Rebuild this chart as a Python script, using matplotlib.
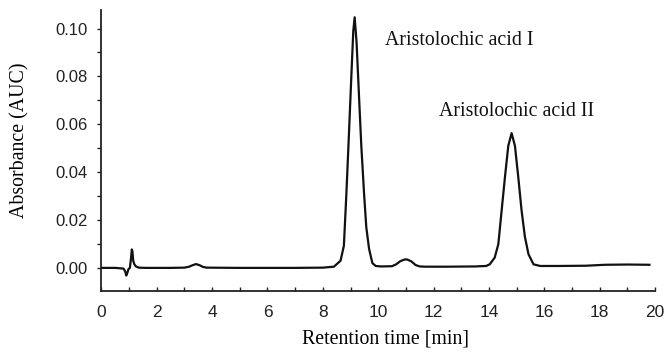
import matplotlib
matplotlib.use("Agg")
import matplotlib.pyplot as plt
from matplotlib.ticker import MultipleLocator, FormatStrFormatter
from matplotlib import font_manager

# Chromatogram trace (time in min, absorbance in AUC)
time_min = [0.0, 0.5, 0.8, 0.86, 0.90, 0.94, 0.98, 1.03, 1.07, 1.10, 1.12, 1.15, 1.19,
            1.25, 1.35, 1.6, 2.5, 3.0, 3.17, 3.29, 3.42, 3.55, 3.67, 3.8, 5.0, 7.0, 8.0,
            8.4, 8.64, 8.76, 8.85, 8.94, 9.03, 9.10, 9.15, 9.22, 9.31, 9.39, 9.49,
            9.57, 9.67, 9.79, 9.91, 10.1, 10.5, 10.65, 10.8, 10.95, 11.05, 11.2,
            11.35, 11.5, 11.7, 12.5, 13.5, 13.9, 14.03, 14.21, 14.34, 14.46, 14.58,
            14.70, 14.82, 14.94, 15.06, 15.18, 15.30, 15.43, 15.61, 15.85, 16.5,
            17.5, 18.2, 19.0, 19.8]
absorbance = [0.0, 0.0, -0.0003, -0.0015, -0.0032, -0.002, -0.0005, 0.0, 0.004, 0.0077,
              0.007, 0.003, 0.0015, 0.0006, 0.0001, 0.0, 0.0, 0.0001, 0.0005, 0.0011,
              0.0016, 0.0011, 0.0004, 0.0001, 0.0, 0.0, 0.0001, 0.0005, 0.003,
              0.0092, 0.0307, 0.055, 0.080, 0.099, 0.1047, 0.094, 0.071, 0.051, 0.031,
              0.017, 0.008, 0.002, 0.0008, 0.0006, 0.0007, 0.0015, 0.0028, 0.0035,
              0.0035, 0.0027, 0.0012, 0.0006, 0.0005, 0.0005, 0.0006, 0.0008, 0.0015,
              0.0043, 0.0099, 0.024, 0.038, 0.051, 0.0563, 0.051, 0.038, 0.024, 0.013,
              0.0057, 0.0015, 0.0008, 0.0008, 0.0009, 0.0013, 0.0014, 0.0013]

peak_labels = ["Aristolochic acid I", "Aristolochic acid II"]
label_pos_t = [10.25, 12.2]
label_pos_a = [0.0948, 0.0652]

x_ticks = [0, 2, 4, 6, 8, 10, 12, 14, 16, 18, 20]
y_ticks = [0.00, 0.02, 0.04, 0.06, 0.08, 0.10]

names = {f.name for f in font_manager.fontManager.ttflist}
tick_font = "Liberation Sans Narrow" if "Liberation Sans Narrow" in names else "Liberation Sans"
serif = "Liberation Serif"

fig = plt.figure(figsize=(6.67, 3.52), dpi=100)
ax = fig.add_axes([0.152, 0.173, 0.83, 0.799])

ax.plot(time_min, absorbance, color="#111111", lw=1.6, solid_joinstyle="round")

ax.set_xlim(0, 20)
ax.set_ylim(-0.0097, 0.1078)
ax.set_xticks(x_ticks)
ax.set_yticks(y_ticks)
ax.xaxis.set_minor_locator(MultipleLocator(1))
ax.yaxis.set_minor_locator(MultipleLocator(0.01))
ax.yaxis.set_major_formatter(FormatStrFormatter("%.2f"))

for s in ["top", "right"]:
    ax.spines[s].set_visible(False)
for s in ["left", "bottom"]:
    ax.spines[s].set_linewidth(1.3)
    ax.spines[s].set_color("#222222")

ax.tick_params(axis="y", which="both", direction="out", length=3, width=1, colors="#222222",
               labelsize=12, pad=7)
ax.tick_params(axis="x", which="both", direction="in", length=3, width=1, colors="#222222",
               labelsize=12.5, pad=10)
for lab in ax.get_xticklabels() + ax.get_yticklabels():
    lab.set_fontfamily(tick_font)
    lab.set_color("#222222")

ax.set_xlabel("Retention time [min]", fontfamily=serif, fontsize=14.3)
ax.set_ylabel("Absorbance (AUC)", fontfamily=serif, fontsize=14.3)
ax.xaxis.set_label_coords(0.514, -0.138)
ax.yaxis.set_label_coords(-0.147, 0.537)
ax.yaxis.label.set_va("center")

for txt, tx, ty in zip(peak_labels, label_pos_t, label_pos_a):
    ax.text(tx, ty, txt, fontfamily=serif, fontsize=14.3, ha="left", va="center", color="#111111")

fig.savefig("out.png", dpi=100)
